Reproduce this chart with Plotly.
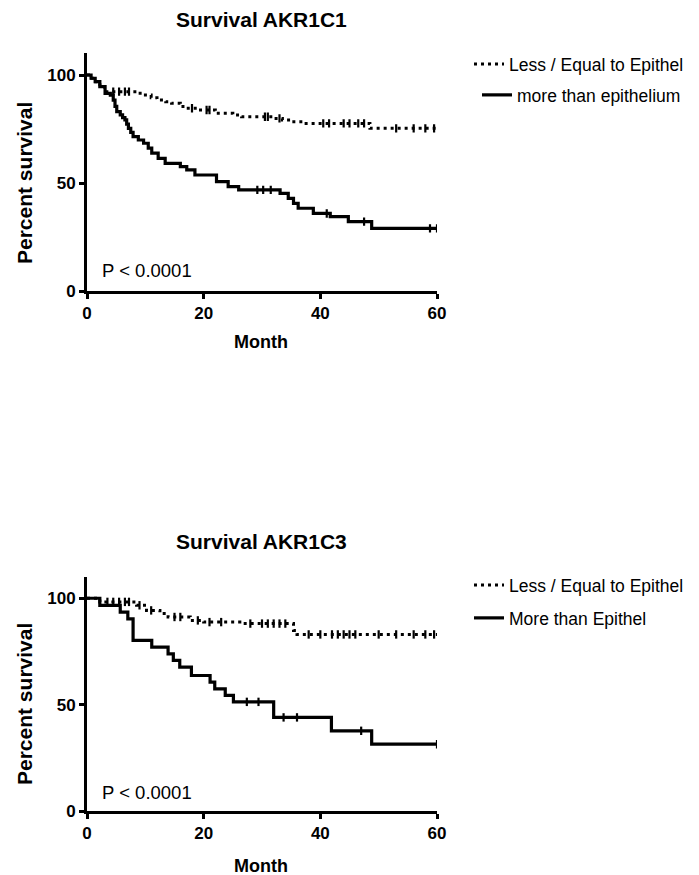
import plotly.graph_objects as go

# ---------------- data ----------------
# AKR1C1, "Less / Equal to Epithel"
c1_less_t = [0, 0.8, 1.5, 2.2, 3.0, 8.5, 9.5, 11.0, 12.0, 13.5, 14.5, 16.0, 17.0, 19.0,
             22.0, 25.0, 26.5, 32.0, 33.5, 35.0, 37.0, 48.5, 60]
c1_less_s = [100, 98.5, 96.9, 94.6, 92.3, 91.5, 90.7, 89.5, 88.4, 87.6, 86.9, 85.4, 84.6, 83.8,
             82.3, 81.5, 80.7, 79.9, 79.2, 78.4, 77.6, 75.3, 75.3]
c1_less_cens_t = [4.5, 5.5, 6.5, 7.2, 18.0, 20.5, 21.0, 30.5, 31.0, 33.0, 40.5, 41.5, 44.0,
                  45.0, 46.5, 47.5, 53.0, 56.0, 58.0, 59.5]
c1_less_cens_s = [92.3, 92.3, 92.3, 92.3, 84.6, 83.8, 83.8, 80.7, 80.7, 79.9, 77.6, 77.6, 77.6,
                  77.6, 77.6, 77.6, 75.3, 75.3, 75.3, 75.3]

# AKR1C1, "more than epithelium"
c1_more_t = [0, 0.7, 1.4, 2.2, 3.1, 4.0, 4.5, 4.8, 5.1, 5.7, 6.1, 6.5, 6.8, 7.1, 7.5, 7.9,
             8.8, 9.7, 10.5, 11.1, 12.2, 13.4, 16.0, 17.1, 18.5, 22.2, 24.2, 26.0, 33.1,
             34.5, 35.4, 36.2, 38.8, 41.7, 44.8, 48.8, 60]
c1_more_s = [100, 98.5, 96.9, 94.6, 91.5, 90.7, 88.4, 85.5, 83.0, 81.5, 80.3, 79.2, 77.3,
             75.3, 73.4, 71.5, 69.9, 68.4, 66.1, 63.8, 61.4, 59.1, 57.6, 56.1, 53.7, 50.6,
             48.3, 46.8, 45.2, 42.9, 40.6, 38.3, 35.9, 34.4, 32.1, 29.0, 29.0]
c1_more_cens_t = [29.2, 30.2, 31.5, 41.1, 47.5, 58.8, 60]
c1_more_cens_s = [46.8, 46.8, 46.8, 35.9, 32.1, 29.0, 29.0]

# AKR1C3, "Less / Equal to Epithel"
c3_less_t = [0, 2.2, 8.5, 10.2, 12.5, 13.9, 17.7, 20.0, 26.2, 35.4, 36.0, 60]
c3_less_s = [100, 98.3, 96.7, 94.3, 92.8, 91.2, 89.6, 88.8, 88.1, 84.9, 83.0, 83.0]
c3_less_cens_t = [3.5, 4.5, 5.5, 6.5, 7.2, 9.0, 11.0, 15.0, 16.0, 19.0, 21.0, 23.0, 28.0,
                  30.0, 31.0, 32.0, 33.0, 34.0, 38.0, 40.0, 42.0, 43.0, 44.0, 45.0, 46.0,
                  50.0, 53.0, 56.0, 58.0, 59.5]
c3_less_cens_s = [98.3, 98.3, 98.3, 98.3, 98.3, 96.7, 94.3, 91.2, 91.2, 89.6, 88.8, 88.8,
                  88.1, 88.1, 88.1, 88.1, 88.1, 88.1, 83.0, 83.0, 83.0, 83.0, 83.0, 83.0,
                  83.0, 83.0, 83.0, 83.0, 83.0, 83.0]

# AKR1C3, "More than Epithel"
c3_more_t = [0, 2.2, 5.7, 7.0, 7.9, 11.1, 13.9, 14.8, 15.9, 17.9, 21.1, 21.9, 23.7, 25.1,
             32.0, 41.9, 48.8, 60]
c3_more_s = [100, 96.7, 93.5, 90.3, 80.2, 77.0, 73.9, 70.8, 67.6, 63.7, 60.6, 57.4, 54.4,
             51.3, 44.0, 37.7, 31.4, 31.4]
c3_more_cens_t = [27.4, 29.4, 33.7, 36.0, 47.0, 60]
c3_more_cens_s = [51.3, 51.3, 44.0, 44.0, 37.7, 31.4]

titles = ["Survival AKR1C1", "Survival AKR1C3"]
legend_names = [["Less / Equal to Epithel", "more than epithelium"],
                ["Less / Equal to Epithel", "More than Epithel"]]
x_ticks = [0, 20, 40, 60]
y_ticks = [0, 50, 100]
p_text = "P < 0.0001"

# ---------------- layout helpers ----------------
# the page body has an 8px default margin, so the figure starts at (8, 8)
OFF = 8
W, H = 699 - OFF, 875 - OFF
FONT = "Arial, 'Liberation Sans', sans-serif"


def px_x(p):
    return (p - OFF) / W


def px_y(p):
    return 1 - (p - OFF) / H


fig = go.Figure()

DOT = "3px,4px"
panels = [
    dict(xa="x", ya="y", less=(c1_less_t, c1_less_s, c1_less_cens_t, c1_less_cens_s),
         more=(c1_more_t, c1_more_s, c1_more_cens_t, c1_more_cens_s),
         legs=("legend", "legend2")),
    dict(xa="x2", ya="y2", less=(c3_less_t, c3_less_s, c3_less_cens_t, c3_less_cens_s),
         more=(c3_more_t, c3_more_s, c3_more_cens_t, c3_more_cens_s),
         legs=("legend3", "legend4")),
]

cens_marker = dict(symbol="line-ns-open", size=6, color="black",
                   line=dict(color="black", width=2.2))
for i, p in enumerate(panels):
    lt, ls, lct, lcs = p["less"]
    mt, ms, mct, mcs = p["more"]
    fig.add_trace(go.Scatter(x=lt, y=ls, mode="lines", line_shape="hv",
                             line=dict(color="black", width=3, dash=DOT),
                             name=legend_names[i][0], legend=p["legs"][0],
                             xaxis=p["xa"], yaxis=p["ya"]))
    fig.add_trace(go.Scatter(x=lct, y=lcs, mode="markers", showlegend=False,
                             marker=cens_marker, xaxis=p["xa"], yaxis=p["ya"]))
    fig.add_trace(go.Scatter(x=mt, y=ms, mode="lines", line_shape="hv",
                             line=dict(color="black", width=3.2),
                             name=legend_names[i][1], legend=p["legs"][1],
                             xaxis=p["xa"], yaxis=p["ya"]))
    fig.add_trace(go.Scatter(x=mct, y=mcs, mode="markers", showlegend=False,
                             marker=cens_marker, xaxis=p["xa"], yaxis=p["ya"]))

axis_common = dict(showline=True, linewidth=2.8, linecolor="black", ticks="outside",
                   ticklen=5, tickwidth=2.8, tickcolor="black", showgrid=False,
                   zeroline=False, automargin=False,
                   tickfont=dict(family=FONT, size=17, color="black", weight="bold"))

xdom = [px_x(87), px_x(437)]
fig.update_layout(
    xaxis=dict(domain=xdom, range=[0, 60], tickvals=x_ticks, anchor="y", **axis_common),
    yaxis=dict(domain=[px_y(291), px_y(53.4)], range=[0, 110], tickvals=y_ticks,
               anchor="x", **axis_common),
    xaxis2=dict(domain=xdom, range=[0, 60], tickvals=x_ticks, anchor="y2", **axis_common),
    yaxis2=dict(domain=[px_y(811), px_y(577)], range=[0, 110], tickvals=y_ticks,
                anchor="x2", **axis_common),
)

leg_common = dict(font=dict(family=FONT, size=17.5, color="black"), bgcolor="rgba(0,0,0,0)",
                  xanchor="left", yanchor="middle", borderwidth=0, itemwidth=30)
fig.update_layout(
    legend=dict(x=px_x(469), y=px_y(64), **leg_common),
    legend2=dict(x=px_x(477), y=px_y(95), **leg_common),
    legend3=dict(x=px_x(469), y=px_y(585), **leg_common),
    legend4=dict(x=px_x(469), y=px_y(618), **leg_common),
)

ann = []
title_y = [20, 541.5]
month_y = [342, 865.5]
pct_y = [183, 704]
p_y = [270, 792]
for i in range(2):
    ann.append(dict(text=f"<b>{titles[i]}</b>", x=px_x(261), y=px_y(title_y[i]),
                    xref="paper", yref="paper", showarrow=False, xanchor="center",
                    yanchor="middle", font=dict(family=FONT, size=21, color="black")))
    ann.append(dict(text="<b>Month</b>", x=px_x(261), y=px_y(month_y[i]),
                    xref="paper", yref="paper", showarrow=False, xanchor="center",
                    yanchor="middle", font=dict(family=FONT, size=18, color="black")))
    ann.append(dict(text="<b>Percent survival</b>", x=px_x(24), y=px_y(pct_y[i]),
                    xref="paper", yref="paper", showarrow=False, textangle=-90,
                    xanchor="center", yanchor="middle",
                    font=dict(family=FONT, size=21, color="black")))
    ann.append(dict(text=p_text, x=px_x(100), y=px_y(p_y[i]),
                    xref="paper", yref="paper", showarrow=False, xanchor="left",
                    yanchor="middle", font=dict(family=FONT, size=18.5, color="black")))

fig.update_layout(width=W, height=H,
                  margin=dict(l=0, r=0, t=0, b=0, pad=0, autoexpand=False),
                  paper_bgcolor="white", plot_bgcolor="white", annotations=ann,
                  font=dict(family=FONT, color="black"))

fig.write_html("out.html")
